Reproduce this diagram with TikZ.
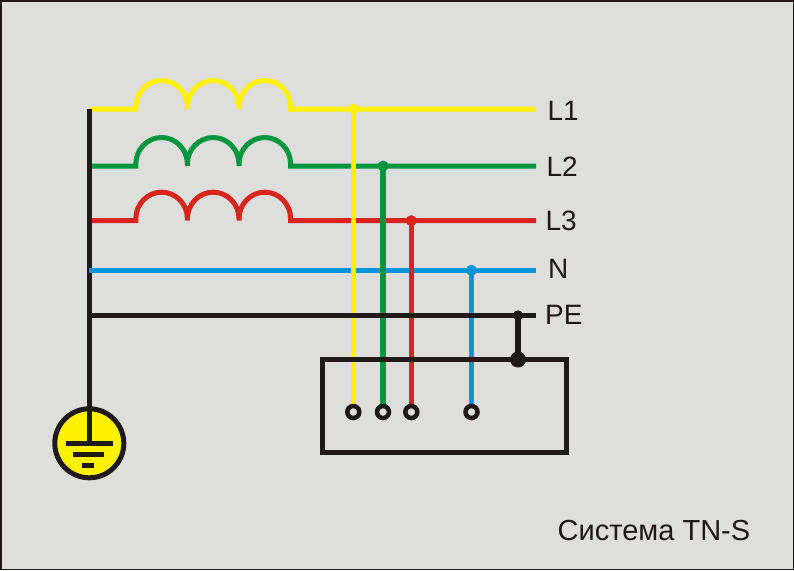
\documentclass[tikz,border=0pt]{standalone}
\usepackage{fontspec}
\setmainfont{Liberation Sans}
\definecolor{panelgray}{HTML}{DEDEDC}
\definecolor{wireblack}{HTML}{1F1A17}
\definecolor{wireyellow}{HTML}{FFF200}
\definecolor{wiregreen}{HTML}{009640}
\definecolor{wirered}{HTML}{DA251C}
\definecolor{wireblue}{HTML}{0095DA}
\tikzset{
  wire/.style={line width=5pt},
  tick/.style={wireblack, line width=5pt},
  lbl/.style={font=\fontsize{28}{28}\selectfont, text=wireblack, anchor=base west, inner sep=0pt},
  terminal/.style={circle, draw=wireblack, line width=4.5pt, fill=panelgray, minimum size=12pt, inner sep=0pt},
  joint/.style={circle, fill=#1, minimum size=11pt, inner sep=0pt}
}
\newcommand{\coil}[2]{%
  \draw[wire, #1] (89,#2) -- (135.8,#2) -- ++(0,-2)
    arc[start angle=180, end angle=360, x radius=25.8, y radius=26.5] -- ++(0,2) -- ++(0,-2)
    arc[start angle=180, end angle=360, x radius=25.8, y radius=26.5] -- ++(0,2) -- ++(0,-2)
    arc[start angle=180, end angle=360, x radius=25.8, y radius=26.5] -- ++(0,2) -- (536,#2);
}
\begin{document}
\begin{tikzpicture}[x=1pt, y=-1pt]
\useasboundingbox (0,0) rectangle (794,570);
\draw[wireblack, fill=panelgray, line width=1.5pt] (0.75,0.75) rectangle (793.25,569.25);
% phases
\coil{wirered}{220.7}
\coil{wiregreen}{166}
\coil{wireyellow}{109}
\draw[wire, wireblack] (89.3,109) -- (89.3,443);
\draw[wire, wireblue] (89,270.3) -- (536,270.3);
% drops to the load
\node[joint=wireyellow] (jL1) at (353.3,109) {};
\node[joint=wiregreen] (jL2) at (383,166) {};
\node[joint=wirered] (jL3) at (411.3,220.7) {};
\node[joint=wireblue] (jN) at (471.5,270.3) {};
\coordinate (tL1) at (353.3,412);
\coordinate (tL2) at (383,412);
\coordinate (tL3) at (411.3,412);
\coordinate (tN) at (471.5,412);
\draw[wire, wirered] (jL3.center) -- (tL3);
\draw[wire, wiregreen, line width=6pt] (jL2.center) -- (tL2);
\draw[wire, wireyellow] (jL1.center) -- (tL1);
\draw[wire, wireblue] (jN.center) -- (tN);
\draw[wire, wireblack] (89,315.3) -- (536,315.3);
% load
\draw[wire, wireblack] (322.5,359.5) rectangle (566.5,452);
\node[terminal] (cL1) at (tL1) {};
\node[terminal] (cL2) at (tL2) {};
\node[terminal] (cL3) at (tL3) {};
\node[terminal] (cN) at (tN) {};
\node[joint=wireblack, minimum size=10pt] (jPE) at (518,315.3) {};
\node[joint=wireblack, minimum size=16pt] (tPE) at (518,359.5) {};
\draw[wire, wireblack, line width=6pt] (jPE.center) -- (tPE.center);
% earth
\node[circle, draw=wireblack, fill=wireyellow, line width=5pt, minimum size=69pt, inner sep=0pt] (earth) at (89.3,443.3) {};
\draw[wire, wireblack] (89.3,408) -- (earth.center);
\draw[tick] (66,443.3) -- (112.7,443.3);
\draw[tick] (73.3,454.3) -- (104,454.3);
\draw[tick] (82,465.3) -- (94,465.3);
% labels
\node[lbl] (nL1) at (547.3,120) {L1};
\node[lbl] (nL2) at (546.3,176) {L2};
\node[lbl] (nL3) at (545.3,230) {L3};
\node[lbl] (nN) at (548,278.3) {N};
\node[lbl] (nPE) at (545,324) {PE};
\node[lbl, font=\fontsize{29}{29}\selectfont] (ntitle) at (557.5,540.7) {Система TN-S};
\end{tikzpicture}
\end{document}
